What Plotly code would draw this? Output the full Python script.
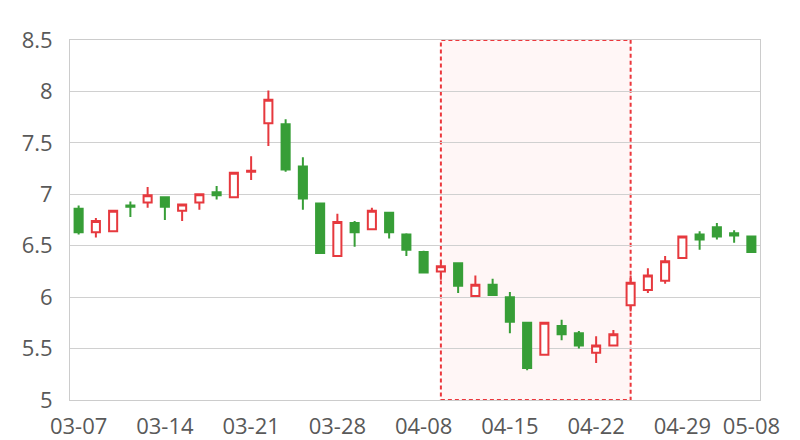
import plotly.graph_objects as go

dates = ["03-07", "03-08", "03-11", "03-12", "03-13", "03-14", "03-15", "03-18", "03-19", "03-20",
         "03-21", "03-22", "03-25", "03-26", "03-27", "03-28", "03-29", "04-01", "04-02", "04-03",
         "04-08", "04-09", "04-10", "04-11", "04-12", "04-15", "04-16", "04-17", "04-18", "04-19",
         "04-22", "04-23", "04-24", "04-25", "04-26", "04-29", "04-30", "05-06", "05-07", "05-08"]
open_ = [6.86, 6.63, 6.64, 6.89, 6.92, 6.97, 6.84, 6.92, 7.02, 6.97,
         7.22, 7.69, 7.68, 7.27, 6.91, 6.40, 6.72, 6.66, 6.82, 6.61,
         6.44, 6.25, 6.33, 6.01, 6.12, 6.00, 5.75, 5.44, 5.72, 5.65,
         5.46, 5.53, 5.92, 6.07, 6.16, 6.38, 6.61, 6.68, 6.62, 6.59]
high = [6.89, 6.77, 6.84, 6.93, 7.07, 6.97, 6.90, 7.00, 7.08, 7.22,
        7.37, 8.01, 7.73, 7.36, 6.92, 6.81, 6.74, 6.87, 6.82, 6.62,
        6.45, 6.35, 6.33, 6.21, 6.18, 6.05, 5.75, 5.76, 5.78, 5.67,
        5.62, 5.68, 6.21, 6.28, 6.40, 6.60, 6.64, 6.72, 6.65, 6.59]
low = [6.61, 6.58, 6.64, 6.78, 6.87, 6.75, 6.74, 6.85, 6.95, 6.97,
       7.14, 7.47, 7.22, 6.85, 6.43, 6.40, 6.49, 6.65, 6.57, 6.40,
       6.24, 6.17, 6.04, 6.01, 6.01, 5.65, 5.29, 5.44, 5.58, 5.50,
       5.36, 5.53, 5.86, 6.04, 6.13, 6.38, 6.46, 6.56, 6.53, 6.44]
close = [6.63, 6.74, 6.84, 6.88, 6.99, 6.88, 6.90, 7.00, 6.99, 7.21,
         7.23, 7.92, 7.24, 6.96, 6.43, 6.73, 6.63, 6.84, 6.63, 6.46,
         6.24, 6.30, 6.11, 6.12, 6.02, 5.76, 5.31, 5.75, 5.64, 5.53,
         5.53, 5.64, 6.14, 6.21, 6.35, 6.59, 6.56, 6.59, 6.60, 6.44]
tick_labels = ["03-07", "03-14", "03-21", "03-28", "04-08", "04-15", "04-22", "04-29", "05-08"]
highlight_start = "04-09"
highlight_end = "04-24"

RED = "#e6393e"
GREEN = "#379e37"

fig = go.Figure(go.Candlestick(
    x=dates, open=open_, high=high, low=low, close=close,
    increasing=dict(line=dict(color=RED, width=2), fillcolor="white"),
    decreasing=dict(line=dict(color=GREEN, width=2), fillcolor=GREEN),
    whiskerwidth=0,
    showlegend=False,
))

fig.add_shape(type="rect", xref="x", yref="paper",
              x0=highlight_start, x1=highlight_end, y0=0, y1=1,
              fillcolor="rgba(255,225,225,0.3)",
              line=dict(color="rgba(235,55,60,1)", width=2, dash="4px,3px"),
              layer="below")

# page body has an 8px margin, so the figure is shifted; compensate here
fig.update_layout(
    width=792, height=432,
    margin=dict(l=62, r=40, t=32, b=40, autoexpand=False),
    paper_bgcolor="white", plot_bgcolor="white",
    font=dict(family="Open Sans", size=22, color="#595959"),
    boxgap=0.33,
    xaxis=dict(type="category", rangeslider=dict(visible=False), automargin=False,
               tickmode="array", tickvals=tick_labels, ticktext=tick_labels,
               showgrid=False, showline=True, linecolor="#cccccc", linewidth=1, mirror=True,
               ticks="", ticklabelstandoff=7, tickangle=0,
               range=[-0.5, len(dates) - 0.5]),
    yaxis=dict(range=[5, 8.5], dtick=0.5, tick0=5, automargin=False,
               showgrid=True, gridcolor="#d0d0d0", gridwidth=1,
               showline=True, linecolor="#cccccc", linewidth=1, mirror=True,
               zeroline=False, ticks="", ticklabelstandoff=12),
)

fig.write_html("out.html")
